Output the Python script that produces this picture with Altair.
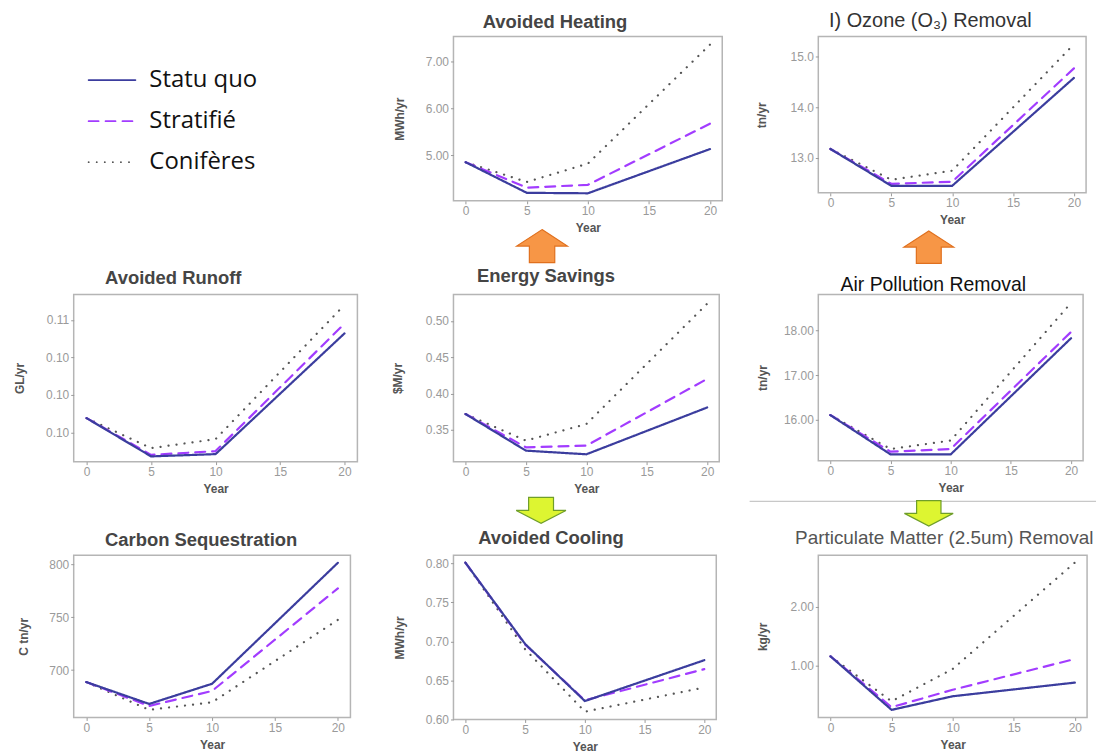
import altair as alt
import pandas as pd

# ---------------- data ----------------
years = [0, 5, 10, 20]
x_ticks = [0, 5, 10, 15, 20]
series_names = ["Statu quo", "Stratifié", "Conifères"]
series_colors = ["#3b3d9e", "#a23cff", "#555555"]
series_dashes = [[1, 0], [10, 7], [0.1, 8]]

heating_statu = [4.85, 4.20, 4.19, 5.13]
heating_strat = [4.85, 4.31, 4.37, 5.67]
heating_conif = [4.85, 4.43, 4.82, 7.35]
heating_ticks = [5.0, 6.0, 7.0]

ozone_statu = [13.17, 12.44, 12.44, 14.58]
ozone_strat = [13.17, 12.48, 12.52, 14.77]
ozone_conif = [13.17, 12.56, 12.74, 15.25]
ozone_ticks = [13.0, 14.0, 15.0]

runoff_statu = [0.0969, 0.0918, 0.0921, 0.1082]
runoff_strat = [0.0969, 0.0920, 0.0925, 0.1095]
runoff_conif = [0.0969, 0.0929, 0.0941, 0.1120]
runoff_ticks = [0.095, 0.100, 0.105, 0.110]

energy_statu = [0.372, 0.3216, 0.3166, 0.381]
energy_strat = [0.372, 0.3262, 0.3285, 0.4204]
energy_conif = [0.372, 0.3354, 0.3582, 0.5238]
energy_ticks = [0.35, 0.40, 0.45, 0.50]

air_statu = [16.11, 15.23, 15.23, 17.83]
air_strat = [16.11, 15.29, 15.35, 17.97]
air_conif = [16.11, 15.35, 15.54, 18.62]
air_ticks = [16.0, 17.0, 18.0]

carbon_statu = [688.7, 668.0, 687.1, 801.6]
carbon_strat = [688.7, 666.1, 680.3, 777.4]
carbon_conif = [688.7, 662.4, 669.6, 747.6]
carbon_ticks = [700, 750, 800]

cooling_statu = [0.801, 0.6968, 0.6236, 0.676]
cooling_strat = [0.801, 0.696, 0.6245, 0.6645]
cooling_conif = [0.801, 0.690, 0.610, 0.641]
cooling_ticks = [0.60, 0.65, 0.70, 0.75, 0.80]

pm_statu = [1.158, 0.249, 0.48, 0.712]
pm_strat = [1.158, 0.294, 0.59, 1.113]
pm_conif = [1.158, 0.395, 0.944, 2.75]
pm_ticks = [1.0, 2.0]

# ---------------- styling helpers ----------------
color_scale = alt.Scale(domain=series_names, range=series_colors)
dash_scale = alt.Scale(domain=series_names, range=series_dashes)

UP_ARROW = "M0,-0.65 L1,0 L0.5,0 L0.5,0.65 L-0.5,0.65 L-0.5,0 L-1,0 Z"
DOWN_ARROW = "M-0.5,-0.52 L0.5,-0.52 L0.5,0 L1,0 L0,0.52 L-1,0 L-0.5,0 Z"

BOLD_TITLE = dict(font="Liberation Sans", fontSize=18.5, fontWeight="bold", color="#454545")


def make_df(statu, strat, conif):
    rows = []
    # draw order: conifères, stratifié, statu quo on top
    for name, vals in zip(series_names[::-1], [conif, strat, statu]):
        for yr, v in zip(years, vals):
            rows.append({"Year": yr, "value": v, "series": name})
    return pd.DataFrame(rows)


def arrow(shape, px, py, fill, stroke, size):
    return alt.Chart(pd.DataFrame({"k": [0]})).mark_point(
        shape=shape, filled=True, fill=fill, stroke=stroke, strokeWidth=1.2,
        size=size, opacity=1, fillOpacity=1,
    ).encode(x=alt.value(px), y=alt.value(py))


def panel(df, title, ytitle, ydomain, yticks, yfmt, w, h, title_dx, title_off,
          ytitle_x, tstyle, extras=(), title_shift=21):
    lines = alt.Chart(df).mark_line(strokeWidth=2.2, strokeCap="round").encode(
        x=alt.X(
            "Year:Q",
            scale=alt.Scale(domain=[-1, 21], nice=False, zero=False),
            axis=alt.Axis(values=x_ticks, format="d", title="Year",
                          titleY=27, titleBaseline="middle"),
        ),
        y=alt.Y(
            "value:Q",
            scale=alt.Scale(domain=ydomain, nice=False, zero=False),
            axis=alt.Axis(values=yticks, format=yfmt, title=ytitle,
                          titleX=ytitle_x, titleY=h / 2, titleAngle=-90,
                          titleBaseline="middle", titleAlign="center"),
        ),
        color=alt.Color("series:N", scale=color_scale, legend=None),
        strokeDash=alt.StrokeDash("series:N", scale=dash_scale, legend=None),
    )
    return alt.layer(lines, *extras).properties(
        width=w, height=h,
        title=alt.TitleParams(text=title, dx=title_dx, dy=title_shift, offset=title_off,
                              frame="group", anchor="middle",
                              baseline="middle", **tstyle),
    )


# ---------------- legend cell ----------------
leg_df = pd.DataFrame({"series": series_names})
leg_y = alt.Y("series:N", sort=series_names, axis=None,
              scale=alt.Scale(type="point", padding=1.17, align=0.53))
leg_rules = alt.Chart(leg_df).mark_rule(strokeWidth=1.8, strokeCap="round").encode(
    x=alt.value(15), x2=alt.value(62), y=leg_y,
    color=alt.Color("series:N", scale=color_scale, legend=None),
    strokeDash=alt.StrokeDash("series:N", scale=dash_scale, legend=None),
)
leg_text = alt.Chart(leg_df).mark_text(
    align="left", baseline="middle", font="Open Sans", fontSize=24, color="#111111"
).encode(x=alt.value(76), y=leg_y, text="series:N")
legend_cell = alt.layer(leg_rules, leg_text).properties(
    width=280, height=165, view=alt.ViewBackground(strokeWidth=0, stroke="transparent")
)

# ---------------- panels ----------------
heating = panel(make_df(heating_statu, heating_strat, heating_conif),
                "Avoided Heating", "MWh/yr", [4.03, 7.52], heating_ticks, ".2f",
                270, 165, -33, 17, -54, BOLD_TITLE,
                extras=[arrow(UP_ARROW, 89, 210.5, "#f79646", "#e0701e", 2600)])

ozone = panel(make_df(ozone_statu, ozone_strat, ozone_conif),
              "I) Ozone (O₃) Removal", "tn/yr", [12.30, 15.40], ozone_ticks, ".1f",
              269, 157, -22, 17, -57,
              dict(font="Liberation Sans", fontSize=20, fontWeight="normal", color="#333333"),
              extras=[arrow(UP_ARROW, 111, 211.5, "#f79646", "#e0701e", 2500)])

runoff = panel(make_df(runoff_statu, runoff_strat, runoff_conif),
               "Avoided Runoff", "GL/yr", [0.0911, 0.1134], runoff_ticks, ".2f",
               285, 168, -42.5, 16, -54, BOLD_TITLE, title_shift=18)

energy = panel(make_df(energy_statu, energy_strat, energy_conif),
               "Energy Savings", "$M/yr", [0.3065, 0.5366], energy_ticks, ".2f",
               267, 168, -40.5, 17, -56, BOLD_TITLE,
               extras=[arrow(DOWN_ARROW, 88, 217, "#ddf531", "#6f9e2a", 2500)],
               title_shift=17)

air_rule = alt.Chart(pd.DataFrame({"k": [0]})).mark_rule(
    color="#c8c8c8", strokeWidth=1.2
).encode(x=alt.value(-69), x2=alt.value(279), y=alt.value(208))

air = panel(make_df(air_statu, air_strat, air_conif),
            "Air Pollution Removal", "tn/yr", [15.09, 18.81], air_ticks, ".2f",
            266, 167, -17.5, 9, -56,
            dict(font="Liberation Sans", fontSize=19.5, fontWeight="normal", color="#111111"),
            extras=[air_rule, arrow(DOWN_ARROW, 111, 220, "#ddf531", "#6f9e2a", 2400)],
            title_shift=19)

carbon = panel(make_df(carbon_statu, carbon_strat, carbon_conif),
               "Carbon Sequestration", "C tn/yr", [655.2, 808.8], carbon_ticks, "d",
               278, 163, -11, 15, -50, BOLD_TITLE, title_shift=18)

cooling = panel(make_df(cooling_statu, cooling_strat, cooling_conif),
                "Avoided Cooling", "MWh/yr", [0.600, 0.8106], cooling_ticks, ".2f",
                264, 165, -34, 17, -54, BOLD_TITLE, title_shift=18)

pm = panel(make_df(pm_statu, pm_strat, pm_conif),
           "Particulate Matter (2.5um) Removal", "kg/yr", [0.12, 2.875], pm_ticks, ".2f",
           270, 163, -8.5, 18, -56,
           dict(font="Liberation Sans", fontSize=19, fontWeight="normal", color="#555555"),
           title_shift=20)

# ---------------- layout ----------------
chart = alt.concat(
    legend_cell, heating, ozone,
    runoff, energy, air,
    carbon, cooling, pm,
    columns=3, bounds="flush", align="each",
    spacing={"row": 94, "column": 96.5},
).properties(
    padding={"left": 5, "top": 0, "right": 5, "bottom": 0},
    background="white",
).configure_view(
    stroke="#b5b5b5", strokeWidth=1.5
).configure_axis(
    grid=False, domain=False,
    labelFont="Liberation Sans", labelFontSize=12, labelColor="#9a9a9a", labelPadding=2,
    tickColor="#9a9a9a", tickSize=3, tickWidth=1,
    titleFont="Liberation Sans", titleFontSize=12, titleFontWeight="bold", titleColor="#555555",
)

chart.save("out.html", embed_options={"renderer": "svg", "actions": False})
